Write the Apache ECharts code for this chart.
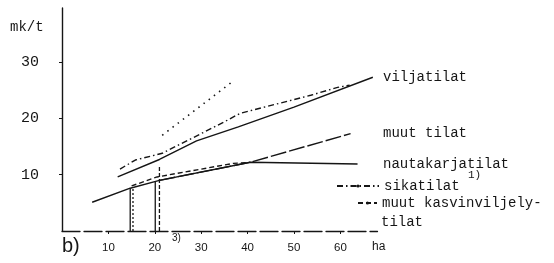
<!DOCTYPE html>
<html>
<head>
<meta charset="utf-8">
<script src="https://cdn.jsdelivr.net/npm/echarts@6/dist/echarts.min.js"></script>
<style>
html,body{margin:0;padding:0;background:#fff;}
#c{width:554px;height:263px;}
</style>
</head>
<body>
<div id="c"></div>
<script>
// ---- data (ha, mk/t) ----
const haTicks = [10, 20, 30, 40, 50, 60];
const valTicks = [10, 20, 30];
const viljatilat = [[12, 9.6], [21, 12.7], [29, 16.0], [38, 18.5], [50, 22.0], [67, 27.3]];
const sikatilat = [[12.5, 11.0], [15.8, 12.6], [21.6, 13.8], [34.8, 19.3], [38.4, 20.9], [53.6, 24.1], [59.4, 25.5], [62, 25.9]];
const dottedLine = [[21.6, 17.0], [36.7, 26.5]];
const nautakarjatilat = [[6.5, 5.1], [14.7, 7.6], [21, 9.0], [40.6, 12.2], [63.7, 11.9]];
const muutTilat = [[21, 9.0], [40.6, 12.2], [62.2, 17.3]];
const muutKasvinviljelytilat = [[15, 8.0], [20.5, 9.6], [36.9, 12.0], [40.6, 12.2]];
const dropHa = [14.7, 15.3, 20.1, 21.0];
const dropTop = [7.6, 7.8, 8.9, 11.6];
const dropStyles = ['solid', [2, 2], 'solid', [4, 2]];

const INK = '#151515';
const mono = '"Liberation Mono", "DejaVu Sans Mono", monospace';
const sans = '"Liberation Sans", "DejaVu Sans", sans-serif';

function lineSeries(name, data, type, width) {
  return {
    name: name, type: 'line', data: data, symbol: 'none', silent: true,
    lineStyle: { color: INK, width: width || 1.4, type: type },
    itemStyle: { color: INK },
    z: 3
  };
}

const series = [
  lineSeries('viljatilat', viljatilat, 'solid'),
  lineSeries('sikatilat', sikatilat, [6, 3, 1.5, 3]),
  lineSeries('', dottedLine, [1.5, 5], 1.6),
  lineSeries('nautakarjatilat', nautakarjatilat, 'solid'),
  lineSeries('muut tilat', muutTilat, [16, 3]),
  lineSeries('muut kasvinviljelytilat', muutKasvinviljelytilat, [5, 3])
];
dropHa.forEach(function (h, i) {
  series.push(lineSeries('', [[h, 0], [h, dropTop[i]]], dropStyles[i], 1.3));
});

const chart = echarts.init(document.getElementById('c'), null, { renderer: 'canvas' });
chart.setOption({
  animation: false,
  backgroundColor: '#fff',
  grid: { left: 62, right: 176.5, top: 8, bottom: 32 },
  xAxis: {
    type: 'value', min: 0, max: 68, interval: 10,
    splitLine: { show: false },
    axisLine: { lineStyle: { color: INK, width: 1.3, type: [18, 4] } },
    axisTick: { show: true, length: 3, lineStyle: { color: INK },
      customValues: haTicks },
    axisLabel: { customValues: haTicks, color: INK, fontFamily: sans, fontSize: 11.5, margin: 11 }
  },
  yAxis: {
    type: 'value', min: 0, max: 39.6, interval: 10,
    splitLine: { show: false },
    axisLine: { show: true, lineStyle: { color: INK, width: 1.4 } },
    axisTick: { show: true, length: 3, lineStyle: { color: INK }, customValues: valTicks },
    axisLabel: { customValues: valTicks, color: INK, fontFamily: mono, fontSize: 15, margin: 23 }
  },
  legend: [
    {
      data: ['sikatilat'], left: 336, top: 179, padding: 0,
      itemWidth: 42, itemHeight: 4, selectedMode: false,
      textStyle: { color: INK, fontFamily: mono, fontSize: 14, lineHeight: 14 }
    },
    {
      data: ['muut kasvinviljelytilat'], left: 357, top: 196, padding: 0,
      itemWidth: 19, itemHeight: 4, selectedMode: false,
      formatter: function () { return 'muut kasvinviljely-'; },
      textStyle: { color: INK, fontFamily: mono, fontSize: 14, lineHeight: 14 }
    }
  ],
  series: series,
  graphic: [
    { type: 'text', left: 10, top: 20, style: { text: 'mk/t', font: '14px ' + mono, fill: INK } },
    { type: 'text', left: 383, top: 70, style: { text: 'viljatilat', font: '14px ' + mono, fill: INK } },
    { type: 'text', left: 383, top: 126, style: { text: 'muut tilat', font: '14px ' + mono, fill: INK } },
    { type: 'text', left: 383, top: 157, style: { text: 'nautakarjatilat', font: '14px ' + mono, fill: INK } },
    { type: 'text', left: 468, top: 170, style: { text: '1)', font: '11px ' + mono, fill: INK } },
    { type: 'text', left: 381, top: 215, style: { text: 'tilat', font: '14px ' + mono, fill: INK } },
    { type: 'text', left: 62, top: 236, style: { text: 'b)', font: '20px ' + sans, fill: INK } },
    { type: 'text', left: 172, top: 233, style: { text: '3)', font: '10px ' + sans, fill: INK } },
    { type: 'text', left: 372, top: 241, style: { text: 'ha', font: '12px ' + sans, fill: INK } }
  ]
});
</script>
</body>
</html>
